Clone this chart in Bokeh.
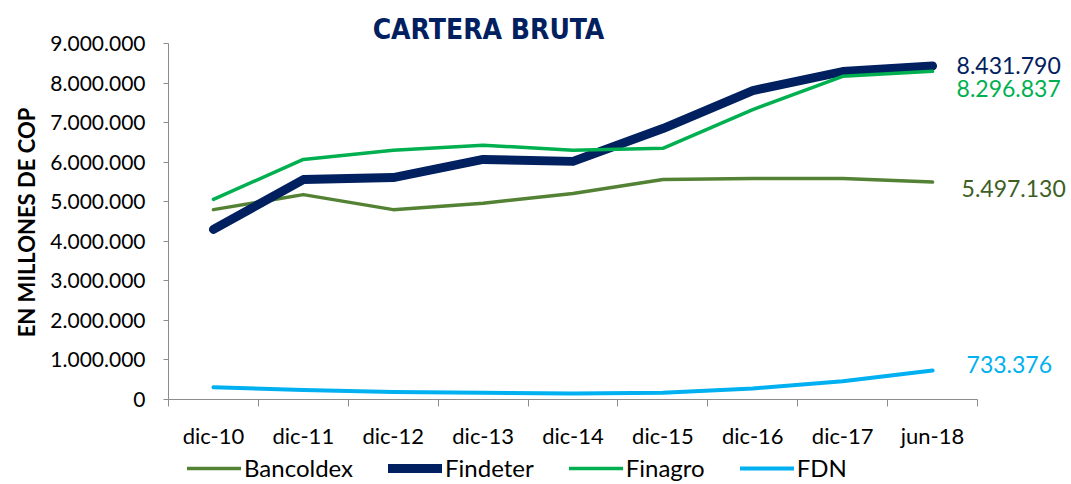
import math
from bokeh.plotting import figure
from bokeh.models import (ColumnDataSource, FixedTicker, Legend, LegendItem, Label, Range1d)
from bokeh.core.properties import value
from bokeh.embed import file_html
from bokeh.resources import INLINE

categories = ["dic-10", "dic-11", "dic-12", "dic-13", "dic-14", "dic-15", "dic-16", "dic-17", "jun-18"]
bancoldex = [4800000, 5180000, 4800000, 4960000, 5210000, 5560000, 5590000, 5590000, 5497130]
findeter = [4300000, 5560000, 5610000, 6070000, 6020000, 6850000, 7810000, 8290000, 8431790]
finagro = [5060000, 6070000, 6300000, 6430000, 6300000, 6350000, 7330000, 8170000, 8296837]
fdn = [310000, 240000, 190000, 170000, 150000, 170000, 280000, 460000, 733376]
y_ticks = [0, 1000000, 2000000, 3000000, 4000000, 5000000, 6000000, 7000000, 8000000, 9000000]
y_tick_labels = ["0", "1.000.000", "2.000.000", "3.000.000", "4.000.000", "5.000.000",
                 "6.000.000", "7.000.000", "8.000.000", "9.000.000"]

FONT = "Lato"
C_BAN, C_FIND, C_FINA, C_FDN = "#548235", "#002060", "#00B050", "#00B0F0"

n = len(categories)
xs = [i + 0.5 for i in range(n)]
y_max = y_ticks[-1]

# layout (page px): axes cross at x=168, y=399; 809 px for 9 categories; 356 px for 9M
W, H = 1066, 484
ZERO_X, ZERO_Y = 168, 399
ppx = 809.0 / n
ppy = 356.0 / y_max

p = figure(width=W, height=H, output_backend="svg", toolbar_location=None,
           x_range=Range1d(-ZERO_X / ppx, (W - ZERO_X) / ppx),
           y_range=Range1d(-(H - ZERO_Y) / ppy, ZERO_Y / ppy),
           min_border_left=0, min_border_right=0, min_border_top=0, min_border_bottom=0)
p.outline_line_color = None
p.xgrid.visible = False
p.ygrid.visible = False
p.background_fill_color = "white"
p.border_fill_color = "white"

r_ban = p.line(xs, bancoldex, line_color=C_BAN, line_width=3.5, line_join="round", line_cap="round")
r_find = p.line(xs, findeter, line_color=C_FIND, line_width=9, line_join="round", line_cap="round")
r_fina = p.line(xs, finagro, line_color=C_FINA, line_width=3.5, line_join="round", line_cap="round")
r_fdn = p.line(xs, fdn, line_color=C_FDN, line_width=4, line_join="round", line_cap="round")

xa = p.xaxis[0]
xa.fixed_location = 0
xa.bounds = (0, n)
xa.ticker = FixedTicker(ticks=xs, minor_ticks=list(range(n + 1)))
xa.major_label_overrides = {x: c for x, c in zip(xs, categories)}
xa.major_tick_line_color = None
xa.major_tick_out = 7
xa.major_tick_in = 0
xa.minor_tick_line_color = "#8C8C8C"
xa.minor_tick_out = 7
xa.minor_tick_in = 0
xa.axis_line_color = "#8C8C8C"
xa.major_label_standoff = 15
xa.major_label_text_font = FONT
xa.major_label_text_font_size = "22px"
xa.major_label_text_color = "black"

ya = p.yaxis[0]
ya.fixed_location = 0
ya.bounds = (0, y_max)
ya.ticker = FixedTicker(ticks=y_ticks)
ya.major_label_overrides = {t: l for t, l in zip(y_ticks, y_tick_labels)}
ya.minor_tick_line_color = None
ya.major_tick_line_color = "#8C8C8C"
ya.major_tick_out = 5
ya.major_tick_in = 0
ya.axis_line_color = "#8C8C8C"
ya.major_label_standoff = 18
ya.major_label_text_font = FONT
ya.major_label_text_font_size = "21px"
ya.major_label_text_color = "black"

last = n - 1
def fmt(v):
    return f"{v:,}".replace(",", ".")

lab_src = ColumnDataSource(dict(
    x=[xs[last]] * 4,
    y=[findeter[last], finagro[last], bancoldex[last], fdn[last]],
    text=[fmt(findeter[last]), fmt(finagro[last]), fmt(bancoldex[last]), fmt(fdn[last])],
    color=[C_FIND, C_FINA, "#3E5F24", C_FDN],
    xo=[24, 24, 29, 34],
    yo=[0, 17, 6, -6],
))
p.text(x="x", y="y", text="text", text_color="color", x_offset="xo", y_offset="yo",
       source=lab_src, text_font=value(FONT), text_font_size="23px",
       text_baseline="middle", text_align="left")

title = Label(x=488, y=H - 29, x_units="screen", y_units="screen",
              text="CARTERA BRUTA",
              text_font="DejaVu Sans Condensed", text_font_style="bold", text_font_size="28px",
              text_color="#002060", text_align="center", text_baseline="middle")
p.add_layout(title)

ylab = Label(x=26, y=H - 222, x_units="screen", y_units="screen", angle=math.pi / 2,
             text="EN MILLONES DE COP", text_font=FONT, text_font_style="bold",
             text_font_size="22px", text_color="black",
             text_align="center", text_baseline="middle")
p.add_layout(ylab)

legend = Legend(items=[
    LegendItem(label="Bancoldex", renderers=[r_ban]),
    LegendItem(label="Findeter", renderers=[r_find]),
    LegendItem(label="Finagro", renderers=[r_fina]),
    LegendItem(label="FDN", renderers=[r_fdn]),
], orientation="horizontal", location=(187, 2), padding=0, margin=0, spacing=35,
    glyph_width=54, glyph_height=20, label_standoff=3, label_text_font=FONT,
    label_text_font_size="24px", label_text_color="black",
    border_line_color=None, background_fill_alpha=0)
p.add_layout(legend, "center")

open("out.html", "w").write(file_html(p, INLINE))
